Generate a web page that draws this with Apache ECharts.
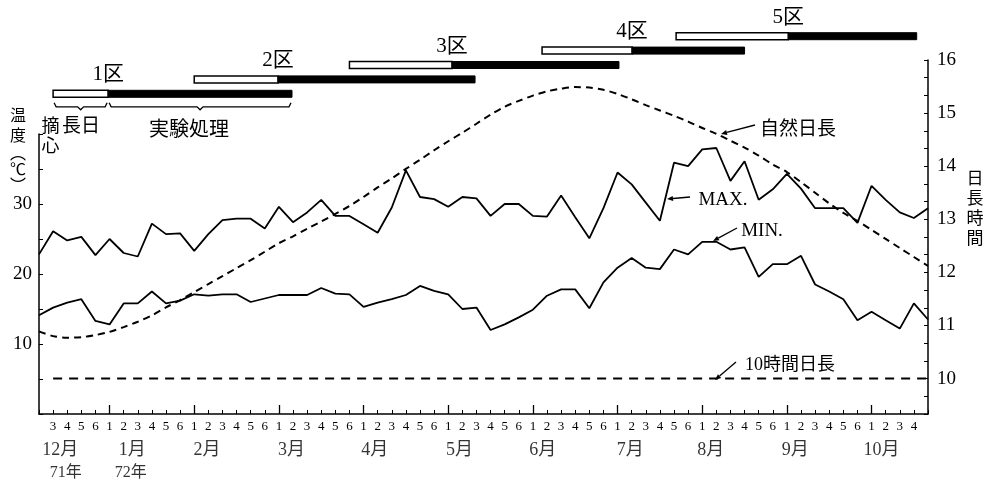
<!DOCTYPE html>
<html><head><meta charset="utf-8">
<script src="https://cdn.jsdelivr.net/npm/echarts/dist/echarts.min.js"></script>
<style>html,body{margin:0;padding:0;background:#fff}#c{width:991px;height:486px}</style>
</head><body><div id="c"></div>
<script>
// semi-decade (5-day period) labels, Dec 2 (1971) .. Oct 5 (1972)
const periodLabels = ['2','3','4','5','6',
  '1','2','3','4','5','6', '1','2','3','4','5','6', '1','2','3','4','5','6',
  '1','2','3','4','5','6', '1','2','3','4','5','6', '1','2','3','4','5','6',
  '1','2','3','4','5','6', '1','2','3','4','5','6', '1','2','3','4','5','6',
  '1','2','3','4','5'];
const tempMax = [22.8,26.1,24.8,25.3,22.7,25.0,23.0,22.5,27.2,25.7,25.8,23.3,25.7,27.7,27.9,27.9,
  26.5,29.6,27.4,28.8,30.6,28.3,28.3,27.1,25.9,29.5,34.8,31.0,30.7,29.6,31.0,30.8,
  28.3,30.0,30.0,28.3,28.2,31.2,28.1,25.1,29.4,34.5,32.8,30.2,27.6,35.9,35.4,37.8,
  38.0,33.3,36.1,30.6,32.1,34.3,32.2,29.4,29.4,29.4,27.3,32.6,30.6,28.8,28.0,29.4];
const tempMin = [14.1,15.2,15.9,16.4,13.3,12.8,15.8,15.8,17.5,15.8,16.2,17.1,16.9,17.1,17.1,16.0,
  16.5,17.0,17.0,17.0,18.0,17.2,17.1,15.3,15.9,16.4,17.0,18.3,17.6,17.1,15.0,15.2,
  12.0,12.8,13.8,14.9,16.9,17.8,17.8,15.1,18.8,20.9,22.3,20.9,20.7,23.5,22.8,24.6,
  24.6,23.5,23.8,19.6,21.4,21.4,22.6,18.5,17.5,16.4,13.4,14.6,13.4,12.2,15.8,13.5];
const dayLength = [10.89,10.80,10.77,10.78,10.82,10.88,10.97,11.07,11.19,11.34,11.48,11.63,11.78,11.93,12.08,12.23,
  12.39,12.55,12.68,12.82,12.96,13.10,13.25,13.42,13.60,13.77,13.95,14.12,14.30,14.47,14.63,14.80,
  14.97,15.12,15.23,15.33,15.41,15.46,15.49,15.48,15.44,15.36,15.26,15.15,15.05,14.95,14.84,14.72,
  14.61,14.48,14.35,14.20,14.03,13.89,13.70,13.50,13.30,13.12,12.97,12.80,12.63,12.46,12.29,12.12];
const shortDayHours = 10;
const shortDayFrom = 1;
const zoneNames = ['1区','2区','3区','4区','5区'];
const zoneLongDayStart = [1.0, 11.0, 22.0, 35.65, 45.15];
const zoneTreatStart = [4.9, 16.94, 29.27, 42.03, 53.1];
const zoneTreatEnd = [17.93, 30.9, 41.1, 50.0, 62.2];
const monthNames = ['12月','1月','2月','3月','4月','5月','6月','7月','8月','9月','10月'];
const monthPos = [1.5, 6.6, 11.9, 17.9, 23.8, 29.8, 35.7, 41.9, 47.6, 53.6, 59.7];
const yearNames = ['71年','72年'];
const yearPos = [1.9, 6.5];

const SERIF = '"Liberation Serif","Noto Sans CJK JP",serif';
const JP = '"Noto Sans CJK JP",sans-serif';
const chart = echarts.init(document.getElementById('c'));

function renderZone(params, api){
  const lane = api.value(0);
  const p1 = api.coord([api.value(1), lane]);
  const p2 = api.coord([api.value(2), lane]);
  const p3 = api.coord([api.value(3), lane]);
  const h = 7;
  return {type:'group', children:[
    {type:'rect', shape:{x:p1[0], y:p1[1]-h/2, width:p2[0]-p1[0], height:h}, style:{fill:'#fff', stroke:'#000', lineWidth:1.5}},
    {type:'rect', shape:{x:p2[0], y:p1[1]-h/2, width:p3[0]-p2[0], height:h}, style:{fill:'#000', stroke:'#000', lineWidth:1}},
    {type:'text', style:{text:zoneNames[params.dataIndex], x:p2[0], y:p1[1]-19, align:'center', verticalAlign:'middle', font:'21px '+SERIF, fill:'#000'}}
  ]};
}
function renderBrace(params, api){
  const lane = api.value(0);
  const a = api.coord([api.value(1), lane]);
  const b = api.coord([api.value(2), lane]);
  const y0 = a[1] + 9, xc = (a[0]+b[0])/2;
  return {type:'polyline', shape:{points:[[a[0]+1,y0],[a[0]+3,y0+4],[xc-3,y0+4],[xc,y0+7],[xc+3,y0+4],[b[0]-3,y0+4],[b[0]-1,y0]]},
    style:{stroke:'#000', lineWidth:1.3, fill:null}};
}
function arrow(x1,y1,x2,y2){
  const a=Math.atan2(y2-y1,x2-x1), L=6, W=2.5;
  const bx=x2-L*Math.cos(a), by=y2-L*Math.sin(a), px=-Math.sin(a)*W, py=Math.cos(a)*W;
  return [{type:'line', shape:{x1,y1,x2:bx,y2:by}, style:{stroke:'#000', lineWidth:1.3}},
          {type:'polygon', shape:{points:[[x2,y2],[bx+px,by+py],[bx-px,by-py]]}, style:{fill:'#000'}}];
}
function txt(t,x,y,size,font){
  return {type:'text', style:{text:t, x, y, align:'center', verticalAlign:'middle', font:size+'px '+(font||JP), fill:'#000'}};
}

const graphics = [
  txt('摘',50.5,125,18), txt('心',50.5,145,18), txt('長日',81,125,19), txt('実験処理',189,128,20),
  txt('温',18,115,16), txt('度',18,135,16), txt('︵',18,153,16), txt('℃',18,169,16), txt('︶',18,185,16),
  txt('日',975,178,17), txt('長',975,198,17), txt('時',975,218,17), txt('間',975,238,17),
  txt('自然日長',798,128,19), txt('MAX.',723,200,19,SERIF), txt('MIN.',762,231,19,SERIF), txt('10時間日長',790,365,18,SERIF)
].concat(arrow(755,125,721,134), arrow(690,197,667,199), arrow(737,228,713,241), arrow(736,362,715,380));

chart.setOption({
  animation:false,
  backgroundColor:'#fff',
  grid:[
    {left:39, right:63, top:134, bottom:72},
    {left:39, right:63, top:60, bottom:72},
    {left:39, right:63, top:29, height:72},
    {left:39, right:63, top:414, height:72}
  ],
  xAxis:[
    {gridIndex:0, type:'category', data:periodLabels, boundaryGap:false, show:false},
    {gridIndex:1, type:'category', data:periodLabels, boundaryGap:false, position:'bottom',
      axisLine:{lineStyle:{color:'#000', width:1.5}},
      axisTick:{inside:true, length:4, interval:0, lineStyle:{color:'#000', width:1}},
      axisLabel:{interval:(i)=> i>0 && i<periodLabels.length-1, margin:6, fontSize:13, fontFamily:SERIF, color:'#000'}},
    {gridIndex:1, type:'category', data:periodLabels, boundaryGap:false, position:'bottom',
      axisLine:{show:false},
      axisTick:{inside:true, length:9, interval:(i,v)=> v==='1', lineStyle:{color:'#000', width:1.3}},
      axisLabel:{show:false}},
    {gridIndex:2, type:'value', min:0, max:63, show:false},
    {gridIndex:3, type:'value', min:0, max:63, show:false}
  ],
  yAxis:[
    {gridIndex:0, type:'value', min:0, max:40, interval:5, position:'left',
      axisLine:{show:true, lineStyle:{color:'#000', width:1.5}},
      axisTick:{show:true, inside:true, length:4, lineStyle:{color:'#000'}},
      splitLine:{show:false},
      axisLabel:{formatter:(v)=> (v%10===0 && v>0 && v<40) ? String(v) : '', fontSize:19, fontFamily:SERIF, color:'#000', margin:7}},
    {gridIndex:1, type:'value', min:28/3, max:16, interval:1/3, position:'right',
      axisLine:{show:true, lineStyle:{color:'#000', width:1.5}},
      axisTick:{show:true, inside:true, length:4, lineStyle:{color:'#000'}},
      splitLine:{show:false},
      axisLabel:{formatter:(v)=>{const r=Math.round(v); return Math.abs(v-r)<0.02 ? String(r) : '';}, fontSize:19, fontFamily:SERIF, color:'#000', margin:9}},
    {gridIndex:2, type:'category', data:zoneNames, show:false},
    {gridIndex:3, type:'value', min:0, max:72, inverse:true, show:false}
  ],
  series:[
    {type:'line', name:'MAX.', xAxisIndex:0, yAxisIndex:0, data:tempMax, symbol:'none', lineStyle:{color:'#000', width:1.8}},
    {type:'line', name:'MIN.', xAxisIndex:0, yAxisIndex:0, data:tempMin, symbol:'none', lineStyle:{color:'#000', width:1.8}},
    {type:'line', name:'自然日長', xAxisIndex:1, yAxisIndex:1, data:dayLength, symbol:'none', smooth:0.3,
      lineStyle:{color:'#000', width:2, type:[7,5]}},
    {type:'line', name:'10時間日長', xAxisIndex:1, yAxisIndex:1,
      data:periodLabels.map((_,i)=> i>=shortDayFrom ? shortDayHours : null), symbol:'none',
      lineStyle:{color:'#000', width:2, type:[9,7]}},
    {type:'custom', xAxisIndex:3, yAxisIndex:2, renderItem:renderZone, clip:false,
      encode:{x:[1,2,3], y:0},
      data:zoneNames.map((n,i)=>[i, zoneLongDayStart[i], zoneTreatStart[i], zoneTreatEnd[i]])},
    {type:'custom', xAxisIndex:3, yAxisIndex:2, renderItem:renderBrace, clip:false,
      encode:{x:[1,2], y:0},
      data:[[0, zoneLongDayStart[0], zoneTreatStart[0]], [0, zoneTreatStart[0], zoneTreatEnd[0]]]},
    {type:'scatter', xAxisIndex:4, yAxisIndex:3, symbolSize:1, itemStyle:{color:'rgba(0,0,0,0)'},
      label:{show:true, position:'inside', formatter:'{b}', fontSize:18, fontFamily:SERIF, color:'#000'},
      data:monthPos.map((p,i)=>({name:monthNames[i], value:[p,36]}))},
    {type:'scatter', xAxisIndex:4, yAxisIndex:3, symbolSize:1, itemStyle:{color:'rgba(0,0,0,0)'},
      label:{show:true, position:'inside', formatter:'{b}', fontSize:16, fontFamily:SERIF, color:'#000'},
      data:yearPos.map((p,i)=>({name:yearNames[i], value:[p,59]}))}
  ],
  graphic:graphics
});
</script></body></html>
